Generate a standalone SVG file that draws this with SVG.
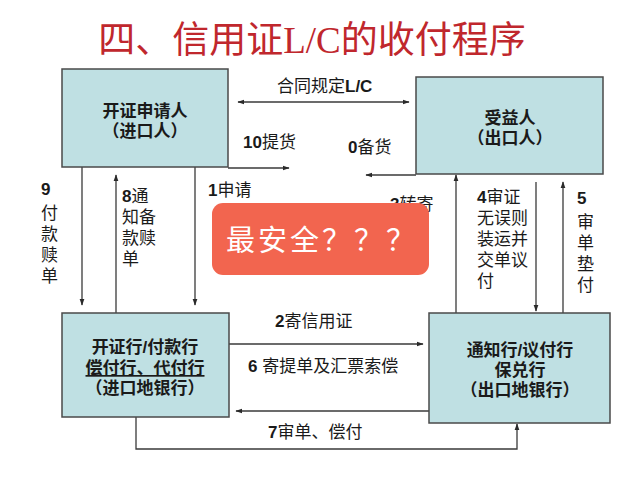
<svg xmlns="http://www.w3.org/2000/svg" width="640" height="480" viewBox="0 0 640 480">
<defs>
<style>
.box{fill:#bfe0e3;stroke:#4a4a4a;stroke-width:1.5}
.bt{font-family:"Liberation Sans","Noto Sans CJK SC",sans-serif;font-size:17px;font-weight:bold;fill:#1a1a1a;text-anchor:middle}
.lb{font-family:"Liberation Sans","Noto Sans CJK SC",sans-serif;font-size:17px;fill:#1a1a1a}
.vl{font-family:"Liberation Sans","Noto Sans CJK SC",sans-serif;font-size:17px;fill:#1a1a1a}
.n{font-weight:bold}
.ln{fill:none;stroke:#3a3a3a;stroke-width:1.3}
</style>
<marker id="ah" viewBox="0 0 10 10" refX="9" refY="5" markerWidth="7" markerHeight="7" orient="auto-start-reverse" markerUnits="userSpaceOnUse">
<path d="M0,1.5 L10,5 L0,8.5 Z" fill="#2a2a2a"/>
</marker>
</defs>
<rect width="640" height="480" fill="#ffffff"/>
<text x="312" y="53" text-anchor="middle" font-family="Liberation Serif,Noto Sans CJK SC,serif" font-size="37" fill="#c0272d">四、信用证L/C的收付程序</text>

<g id="connectors">
<line class="ln" x1="238" y1="102" x2="409" y2="102" marker-start="url(#ah)" marker-end="url(#ah)"/>
<line class="ln" x1="228" y1="168" x2="289" y2="168" marker-end="url(#ah)"/>
<line class="ln" x1="416" y1="175" x2="366" y2="175" marker-end="url(#ah)"/>
<line class="ln" x1="82" y1="167" x2="82" y2="305" marker-end="url(#ah)"/>
<line class="ln" x1="116" y1="313" x2="116" y2="175" marker-end="url(#ah)"/>
<line class="ln" x1="195" y1="167" x2="195" y2="305" marker-end="url(#ah)"/>
<line class="ln" x1="456" y1="313" x2="456" y2="175" marker-end="url(#ah)"/>
<line class="ln" x1="536" y1="182" x2="536" y2="311" marker-end="url(#ah)"/>
<line class="ln" x1="563" y1="313" x2="563" y2="182" marker-end="url(#ah)"/>
<line class="ln" x1="229" y1="344" x2="423" y2="344" marker-end="url(#ah)"/>
<line class="ln" x1="429" y1="411" x2="236" y2="411" marker-end="url(#ah)"/>
<polyline class="ln" points="136,417 136,449 517,449 517,424" marker-end="url(#ah)"/>
</g>

<g id="applicant">
<rect class="box" x="62" y="69" width="166" height="98"/>
<text class="bt" x="145" y="117">开证申请人<tspan x="145" dy="20">（进口人）</tspan></text>
</g>
<g id="beneficiary">
<rect class="box" x="416" y="77" width="187" height="97"/>
<text class="bt" x="510" y="124">受益人<tspan x="510" dy="20">（出口人）</tspan></text>
</g>
<g id="issuing-bank">
<rect class="box" x="62" y="313" width="167" height="104"/>
<text class="bt" x="145" y="353">开证行/付款行<tspan x="145" dy="21" text-decoration="underline">偿付行、代付行</tspan><tspan x="145" dy="20">（进口地银行）</tspan></text>
</g>
<g id="advising-bank">
<rect class="box" x="429" y="313" width="181" height="110"/>
<text class="bt" x="520" y="356">通知行/议付行<tspan x="520" dy="20">保兑行</tspan><tspan x="520" dy="20">（出口地银行）</tspan></text>
</g>

<g id="labels">
<text class="lb" x="277" y="92">合同规定<tspan class="n">L/C</tspan></text>
<text class="lb" x="243" y="148"><tspan class="n">10</tspan>提货</text>
<text class="lb" x="348" y="153"><tspan class="n">0</tspan>备货</text>
<text class="lb" x="275" y="327"><tspan class="n">2</tspan>寄信用证</text>
<text class="lb" x="248" y="372"><tspan class="n">6</tspan>  寄提单及汇票索偿</text>
<text class="lb" x="268" y="438"><tspan class="n">7</tspan>审单、偿付</text>
<text class="vl" x="41" y="195"><tspan class="n">9</tspan><tspan x="41" dy="24">付</tspan><tspan x="41" dy="21">款</tspan><tspan x="41" dy="21">赎</tspan><tspan x="41" dy="21">单</tspan></text>
<text class="vl" x="122" y="202"><tspan class="n">8</tspan>通<tspan x="122" dy="21">知备</tspan><tspan x="122" dy="21">款赎</tspan><tspan x="122" dy="21">单</tspan></text>
<text class="vl" x="208" y="196"><tspan class="n">1</tspan>申请</text>
<text class="vl" x="390" y="210"><tspan class="n">3</tspan>转寄</text>
<text class="vl" x="477" y="203"><tspan class="n">4</tspan>审证<tspan x="477" dy="21">无误则</tspan><tspan x="477" dy="21">装运并</tspan><tspan x="477" dy="21">交单议</tspan><tspan x="477" dy="21">付</tspan></text>
<text class="vl" x="577" y="204"><tspan class="n">5</tspan><tspan x="577" dy="24">审</tspan><tspan x="577" dy="21">单</tspan><tspan x="577" dy="21">垫</tspan><tspan x="577" dy="21">付</tspan></text>
</g>

<g id="overlay">
<rect x="212" y="203" width="217" height="72" rx="11" fill="#f2654f"/>
<text x="226" y="251" font-family="Liberation Sans,Noto Sans CJK SC,sans-serif" font-size="29" fill="#ffffff" letter-spacing="3">最安全？？？</text>
</g>
</svg>
